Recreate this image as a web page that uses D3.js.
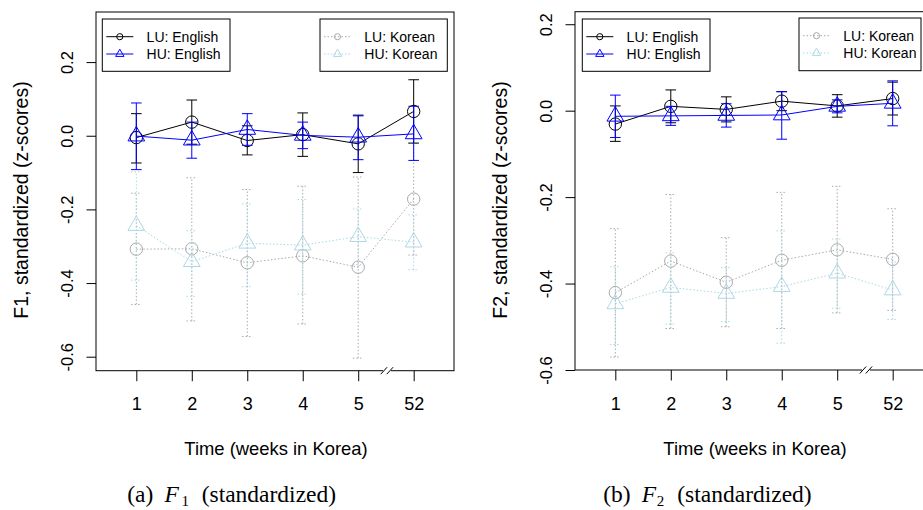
<!DOCTYPE html>
<html>
<head>
<meta charset="utf-8">
<script src="https://cdn.jsdelivr.net/npm/d3@7"></script>
<style>
  body { margin: 0; background: #fff; }
  svg { display: block; font-family: "Liberation Sans", Arial, sans-serif; }
</style>
</head>
<body>
<div id="chart"></div>
<script>
// weeks on the x axis (the gap 5 -> 52 is shown with a break)
const weeks = ["1", "2", "3", "4", "5", "52"];
const yTicks = [0.2, 0.0, -0.2, -0.4, -0.6];

// F1 panel
const luEngF1   = [-0.005, 0.037, -0.013, 0.003, -0.022, 0.066];
const luEngF1Lo = [-0.074, -0.023, -0.052, -0.056, -0.100, -0.020];
const luEngF1Hi = [0.060, 0.097, 0.027, 0.062, 0.056, 0.152];
const huEngF1   = [-0.001, -0.012, 0.017, 0.001, -0.004, 0.005];
const huEngF1Lo = [-0.092, -0.061, -0.026, -0.035, -0.065, -0.067];
const huEngF1Hi = [0.089, 0.037, 0.060, 0.037, 0.054, 0.080];
const luKorF1   = [-0.308, -0.307, -0.345, -0.326, -0.357, -0.172];
const luKorF1Lo = [-0.458, -0.503, -0.545, -0.511, -0.604, -0.324];
const luKorF1Hi = [-0.156, -0.114, -0.146, -0.137, -0.112, -0.020];
const huKorF1   = [-0.244, -0.342, -0.292, -0.297, -0.274, -0.289];
const huKorF1Lo = [-0.392, -0.436, -0.410, -0.430, -0.350, -0.364];
const huKorF1Hi = [-0.098, -0.258, -0.185, -0.173, -0.199, -0.215];

// F2 panel
const luEngF2   = [-0.031, 0.010, 0.003, 0.022, 0.011, 0.028];
const luEngF2Lo = [-0.071, -0.028, -0.026, 0.000, -0.015, -0.010];
const luEngF2Hi = [0.011, 0.048, 0.032, 0.044, 0.037, 0.066];
const huEngF2   = [-0.013, -0.012, -0.011, -0.010, 0.010, 0.017];
const huEngF2Lo = [-0.062, -0.034, -0.038, -0.066, -0.005, -0.035];
const huEngF2Hi = [0.036, 0.010, 0.016, 0.044, 0.025, 0.069];
const luKorF2   = [-0.421, -0.348, -0.397, -0.346, -0.322, -0.344];
const luKorF2Lo = [-0.570, -0.504, -0.500, -0.504, -0.468, -0.462];
const luKorF2Hi = [-0.273, -0.194, -0.294, -0.189, -0.175, -0.227];
const huKorF2   = [-0.447, -0.409, -0.423, -0.407, -0.376, -0.415];
const huKorF2Lo = [-0.541, -0.494, -0.488, -0.538, -0.457, -0.483];
const huKorF2Hi = [-0.361, -0.329, -0.363, -0.278, -0.297, -0.350];

const grey = "#a9a9a9", lightblue = "#add8e6";
const R = 6.2;   // marker size

const svg = d3.select("#chart").append("svg")
  .attr("width", 923)
  .attr("height", 510);

// R style pch=2 triangle
function triangle(cx, cy, r) {
  return `M${cx},${cy - 1.555 * r}L${cx + 1.347 * r},${cy + 0.778 * r}L${cx - 1.347 * r},${cy + 0.778 * r}Z`;
}

function marker(g, shape, cx, cy, r, color) {
  if (shape === "circle") {
    g.append("circle").attr("cx", cx).attr("cy", cy).attr("r", r)
      .attr("fill", "none").attr("stroke", color);
  } else {
    g.append("path").attr("d", triangle(cx, cy, r))
      .attr("fill", "none").attr("stroke", color);
  }
}

function drawPanel(p) {
  const g = svg.append("g");
  const width = 358;

  const x = d3.scalePoint().domain(weeks)
    .range([p.left, p.left + width]).padding(0.727);
  const y = d3.scaleLinear().domain(p.yDomain).range([p.bottom, p.top]);

  // series: Korean first, English on top
  p.series.forEach(s => {
    const sg = g.append("g")
      .attr("stroke", s.color)
      .attr("stroke-dasharray", s.dotted ? "1.5,2" : null)
      .attr("fill", "none");

    const line = d3.line().x((d, i) => x(weeks[i])).y(d => y(d));
    sg.append("path").attr("d", line(s.mean));

    s.mean.forEach((m, i) => {
      const cx = x(weeks[i]);
      sg.append("line").attr("x1", cx).attr("x2", cx)
        .attr("y1", y(s.lo[i])).attr("y2", y(s.hi[i]));
      [s.lo[i], s.hi[i]].forEach(v => {
        sg.append("line").attr("x1", cx - 5.3).attr("x2", cx + 5.3)
          .attr("y1", y(v)).attr("y2", y(v));
      });
    });

    const mg = g.append("g");
    s.mean.forEach((m, i) => marker(mg, s.shape, x(weeks[i]), y(m), R, s.color));
  });

  // plot box
  g.append("rect")
    .attr("x", p.left).attr("y", p.top)
    .attr("width", width).attr("height", p.bottom - p.top)
    .attr("fill", "none").attr("stroke", "black");

  // y axis
  const ya = g.append("g")
    .attr("transform", `translate(${p.left},0)`)
    .call(d3.axisLeft(y).tickValues(yTicks).tickSize(9.5).tickFormat(d => d.toFixed(1)));
  ya.select(".domain").remove();
  ya.attr("font-family", null).attr("font-size", null);
  ya.selectAll("text")
    .attr("x", null).attr("dy", null)
    .attr("transform", "translate(-23.5,0) rotate(-90)")
    .attr("text-anchor", "middle")
    .attr("font-size", 16.5)
    .attr("fill", "black");

  // x axis
  const xa = g.append("g")
    .attr("transform", `translate(0,${p.bottom})`)
    .call(d3.axisBottom(x).tickSize(10.5));
  xa.select(".domain").remove();
  xa.attr("font-family", null).attr("font-size", null);
  xa.selectAll("text")
    .attr("y", 39.5).attr("dy", null)
    .attr("font-size", 18)
    .attr("fill", "black");

  // axis break between 5 and 52
  const bx = (x("5") + x("52")) / 2 + 1;
  g.append("rect").attr("x", bx - 4).attr("y", p.bottom - 1.5)
    .attr("width", 8).attr("height", 3).attr("fill", "white");
  [-3, 3].forEach(o => {
    g.append("line")
      .attr("x1", bx + o - 3.2).attr("y1", p.bottom + 3.5)
      .attr("x2", bx + o + 3.2).attr("y2", p.bottom - 3.5)
      .attr("stroke", "black");
  });

  // axis titles
  g.append("text")
    .attr("x", p.left + width / 2 + 1).attr("y", 455)
    .attr("text-anchor", "middle").attr("font-size", 18.4)
    .text("Time (weeks in Korea)");
  g.append("text")
    .attr("transform", `translate(${p.left - 68.5},200) rotate(-90)`)
    .attr("text-anchor", "middle").attr("font-size", 19.5)
    .text(p.yTitle);

  // legends
  p.legends.forEach(lg => {
    const l = g.append("g");
    l.append("rect").attr("x", lg.x).attr("y", lg.y)
      .attr("width", lg.w).attr("height", lg.h)
      .attr("fill", "white").attr("stroke", "black");
    lg.items.forEach((s, k) => {
      const ry = lg.y + 17.7 + k * 17.3;
      l.append("line")
        .attr("x1", lg.x + 4).attr("x2", lg.x + 31)
        .attr("y1", ry).attr("y2", ry)
        .attr("stroke", s.color)
        .attr("stroke-dasharray", s.dotted ? "1.5,2" : null);
      marker(l, s.shape, lg.x + 17.5, ry, 3.1, s.color);
      l.append("text")
        .attr("x", lg.x + 44.3).attr("y", ry + 5.2)
        .attr("font-size", 14)
        .text(s.name);
    });
  });

  // caption
  const cap = svg.append("text")
    .attr("y", 501.5)
    .attr("font-family", "Liberation Serif, 'Times New Roman', serif")
    .attr("font-size", 23.5);
  cap.append("tspan").attr("x", p.capX).text(p.capLabel);
  cap.append("tspan").attr("x", p.capX + p.capOff[0]).attr("font-style", "italic").text("F");
  cap.append("tspan").attr("x", p.capX + p.capOff[1]).attr("dy", 4)
    .attr("font-size", 15).text(p.capSub);
  cap.append("tspan").attr("x", p.capX + p.capOff[2]).attr("dy", -4).text("(standardized)");
}

function seriesSet(le, leLo, leHi, he, heLo, heHi, lk, lkLo, lkHi, hk, hkLo, hkHi) {
  return {
    luEng: {name: "LU: English", mean: le, lo: leLo, hi: leHi, color: "black", shape: "circle"},
    huEng: {name: "HU: English", mean: he, lo: heLo, hi: heHi, color: "blue", shape: "triangle"},
    luKor: {name: "LU: Korean", mean: lk, lo: lkLo, hi: lkHi, color: grey, shape: "circle", dotted: true},
    huKor: {name: "HU: Korean", mean: hk, lo: hkLo, hi: hkHi, color: lightblue, shape: "triangle", dotted: true}
  };
}

const s1 = seriesSet(luEngF1, luEngF1Lo, luEngF1Hi, huEngF1, huEngF1Lo, huEngF1Hi,
                     luKorF1, luKorF1Lo, luKorF1Hi, huKorF1, huKorF1Lo, huKorF1Hi);
const s2 = seriesSet(luEngF2, luEngF2Lo, luEngF2Hi, huEngF2, huEngF2Lo, huEngF2Hi,
                     luKorF2, luKorF2Lo, luKorF2Hi, huKorF2, huKorF2Lo, huKorF2Hi);

drawPanel({
  left: 96, top: 12, bottom: 370.7,
  yDomain: [-0.638, 0.336],
  yTitle: "F1, standardized (z-scores)",
  series: [s1.luKor, s1.huKor, s1.luEng, s1.huEng],
  legends: [
    {x: 102.3, y: 19, w: 127.7, h: 52.3, items: [s1.luEng, s1.huEng]},
    {x: 320, y: 19, w: 127.3, h: 52.3, items: [s1.luKor, s1.huKor]}
  ],
  capX: 127.3, capLabel: "(a)", capSub: "1", capOff: [37.2, 54.2, 74.4]
});

drawPanel({
  left: 575, top: 11.7, bottom: 370,
  yDomain: [-0.6, 0.229],
  yTitle: "F2, standardized (z-scores)",
  series: [s2.luKor, s2.huKor, s2.luEng, s2.huEng],
  legends: [
    {x: 582.3, y: 19, w: 127.7, h: 52.3, items: [s2.luEng, s2.huEng]},
    {x: 799, y: 18, w: 122, h: 52.7, items: [s2.luKor, s2.huKor]}
  ],
  capX: 603.3, capLabel: "(b)", capSub: "2", capOff: [38.4, 53.4, 74]
});
</script>
</body>
</html>
